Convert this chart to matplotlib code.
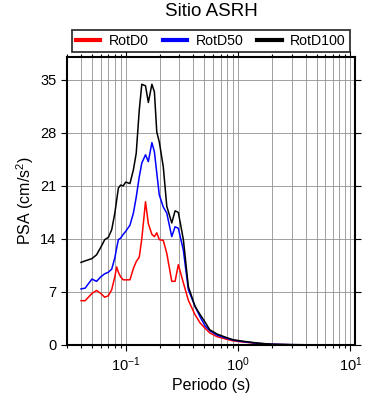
import numpy as np
import matplotlib
matplotlib.use("Agg")
import matplotlib.pyplot as plt
from matplotlib.ticker import LogLocator, NullFormatter

plt.rcParams["font.family"] = ["Liberation Sans", "DejaVu Sans"]
plt.rcParams["mathtext.fontset"] = "custom"
plt.rcParams["mathtext.rm"] = "Liberation Sans"
plt.rcParams["mathtext.it"] = "Liberation Sans:italic"

# Periods (s) and spectral accelerations (cm/s^2)
periods = [0.040, 0.0435, 0.050, 0.055, 0.060, 0.065, 0.070, 0.075, 0.080, 0.083,
           0.086, 0.090, 0.095, 0.100, 0.109, 0.117, 0.124, 0.132, 0.139, 0.150,
           0.159, 0.171, 0.180, 0.189, 0.199, 0.216, 0.232, 0.257, 0.275, 0.294,
           0.326, 0.361, 0.414, 0.460, 0.510, 0.560, 0.650, 0.750, 0.900, 1.100,
           1.500, 2.000, 3.000, 5.000, 10.00]
rotd100 = [10.9, 11.1, 11.4, 11.9, 12.9, 13.9, 14.2, 15.2, 17.4, 19.1,
           20.7, 21.1, 21.0, 21.5, 21.3, 23.1, 25.3, 31.0, 34.4, 34.2,
           32.0, 34.4, 33.4, 28.1, 26.8, 23.5, 18.3, 16.1, 17.7, 17.5,
           13.9, 7.7, 5.1, 4.0, 3.0, 2.0, 1.45, 1.1, 0.7, 0.5,
           0.25, 0.1, 0.05, 0.02, 0.01]
rotd50 = [7.4, 7.5, 8.7, 8.4, 9.0, 9.4, 9.6, 10.0, 11.5, 12.8,
          13.9, 14.1, 14.6, 15.0, 15.8, 17.4, 19.5, 22.2, 24.0, 25.1,
          24.2, 26.7, 25.5, 22.7, 19.8, 18.2, 17.4, 14.3, 15.6, 15.4,
          12.5, 7.3, 5.1, 3.7, 2.5, 1.9, 1.3, 1.0, 0.65, 0.45,
          0.22, 0.1, 0.04, 0.02, 0.01]
rotd0 = [5.85, 5.85, 6.8, 7.2, 6.8, 6.3, 6.5, 7.3, 9.0, 10.3,
         9.6, 9.0, 8.6, 8.6, 8.6, 10.1, 11.0, 11.6, 14.0, 18.9,
         16.0, 14.6, 14.3, 14.8, 13.9, 13.8, 12.1, 8.4, 8.4, 10.6,
         8.2, 5.9, 4.0, 2.9, 2.2, 1.6, 1.1, 0.85, 0.55, 0.4,
         0.2, 0.08, 0.03, 0.01, 0.01]

series = [("RotD0", rotd0, "#ff0000"),
          ("RotD50", rotd50, "#0000ff"),
          ("RotD100", rotd100, "#000000")]
yticks = [0, 7, 14, 21, 28, 35]

fig = plt.figure(figsize=(3.9, 4.0), dpi=100)
ax = fig.add_axes([67 / 390, 55 / 400, 288 / 390, 288 / 400])

for name, vals, col in series:
    ax.plot(periods, vals, color=col, lw=1.1, label=name)

ax.set_xscale("log")
ax.set_xlim(0.03, 11)
ax.set_ylim(0, 38)
ax.set_yticks(yticks)
ax.xaxis.set_major_locator(LogLocator(base=10, numticks=10))
ax.xaxis.set_minor_locator(LogLocator(base=10, subs=np.arange(2, 10), numticks=30))
ax.xaxis.set_minor_formatter(NullFormatter())

ax.grid(True, which="both", axis="x", color="#909090", lw=0.6)
ax.grid(True, which="major", axis="y", color="#909090", lw=0.6)
ax.set_axisbelow(True)

for s in ax.spines.values():
    s.set_linewidth(1.5)
ax.tick_params(which="both", direction="out", top=True, right=True, width=0.8,
               labelsize=10.5, colors="black")
ax.tick_params(which="major", length=4)
ax.tick_params(which="minor", length=2.5)

ax.set_xlabel("Periodo (s)", fontsize=11.5, labelpad=3)
ax.set_ylabel("PSA (cm/s$^2$)", fontsize=11.5, labelpad=3)

fig.text(211 / 390, 1 - 12 / 400, "Sitio ASRH", ha="center", va="center", fontsize=13.5)

leg = fig.legend(loc="center", bbox_to_anchor=(211 / 390, 1 - 41 / 400), ncol=3,
                 frameon=True, fancybox=False, fontsize=10.2, handlelength=1.7,
                 columnspacing=1.0, handletextpad=0.6, borderpad=0.3,
                 borderaxespad=0)
leg.get_frame().set_edgecolor("black")
leg.get_frame().set_linewidth(1.3)
for ln in leg.get_lines():
    ln.set_linewidth(3)

fig.savefig("out.png", dpi=100)
